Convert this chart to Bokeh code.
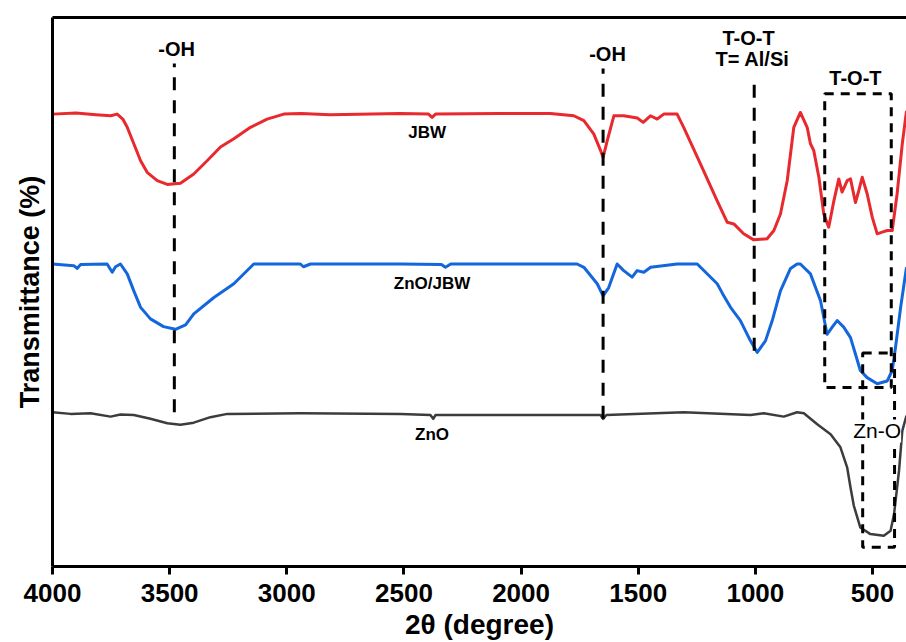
from bokeh.plotting import figure
from bokeh.models import Range1d, LinearAxis, FixedTicker, Label
from bokeh.embed import file_html
from bokeh.resources import INLINE

# ---------------- data ----------------
jbw_wn = [4000, 3900, 3815, 3752, 3724, 3700, 3681, 3653, 3624, 3596, 3553, 3510, 3454, 3397,
          3340, 3283, 3226, 3155, 3084, 3013, 2940, 2815, 2515, 2395, 2380, 2365, 2090, 1875,
          1775, 1732, 1690, 1661, 1650, 1632, 1604, 1562, 1504, 1479, 1448, 1419, 1391, 1334,
          1306, 1234, 1163, 1120, 1092, 1050, 1007, 950, 921, 893, 864, 836, 808, 779, 765,
          751, 729, 708, 687, 665, 644, 630, 608, 594, 573, 559, 544, 523, 501, 480, 459, 437,
          416, 395, 373, 355]
jbw_t = [82.4, 82.6, 82.3, 82.1, 82.4, 81.5, 80.0, 77.0, 73.9, 71.8, 70.3, 69.6, 69.8, 71.5,
         73.9, 76.4, 77.9, 80.0, 81.5, 82.4, 82.5, 82.3, 82.5, 82.4, 81.8, 82.4, 82.5, 82.5,
         82.1, 81.2, 78.8, 75.8, 74.5, 77.6, 82.1, 82.1, 81.7, 80.9, 82.1, 81.5, 82.4, 82.4,
         80.0, 73.3, 66.6, 62.7, 62.4, 60.6, 59.5, 59.7, 61.2, 64.2, 70.3, 80.0, 82.7, 80.0,
         77.0, 75.8, 70.9, 64.2, 61.8, 66.6, 70.6, 68.2, 70.3, 70.6, 66.3, 68.4, 70.9, 67.9,
         63.6, 60.6, 60.9, 61.2, 61.2, 67.9, 77.0, 83.0]

znojbw_wn = [4000, 3909, 3895, 3880, 3767, 3745, 3731, 3710, 3681, 3653, 3624, 3582, 3526, 3475,
             3432, 3397, 3311, 3226, 3141, 2942, 2929, 2899, 2515, 2340, 2323, 2300, 1761, 1732,
             1675, 1650, 1626, 1590, 1562, 1526, 1505, 1476, 1447, 1334, 1248, 1163, 1140, 1106,
             1064, 1021, 992, 957, 928, 893, 850, 822, 808, 765, 722, 694, 672, 651, 623, 594,
             573, 552, 523, 480, 437, 416, 402, 380, 355]
znojbw_t = [55.1, 54.8, 54.3, 55.0, 55.1, 53.6, 54.6, 55.1, 53.3, 50.2, 47.2, 45.1, 43.7, 43.2,
            44.0, 46.0, 49.0, 51.5, 55.1, 55.1, 54.6, 55.1, 55.1, 55.0, 54.5, 55.1, 55.1, 54.5,
            51.5, 49.3, 50.8, 55.1, 53.9, 52.7, 53.9, 53.6, 54.5, 55.1, 55.1, 51.5, 49.7, 47.2,
            44.8, 41.1, 39.0, 41.1, 44.8, 50.2, 54.3, 55.1, 55.1, 53.3, 48.4, 42.3, 43.6, 44.8,
            43.6, 41.7, 38.7, 35.7, 34.4, 33.3, 33.8, 35.7, 39.9, 47.2, 54.5]

zno_wn = [4000, 3923, 3838, 3752, 3710, 3653, 3582, 3510, 3454, 3397, 3326, 3254, 2942, 2515,
          2387, 2375, 2365, 2301, 1661, 1650, 1636, 1306, 1021, 964, 879, 822, 793, 736, 679,
          637, 608, 594, 580, 552, 509, 452, 423, 408, 387, 373, 355]
zno_t = [28.1, 27.8, 27.9, 27.3, 27.7, 27.6, 26.9, 26.1, 25.8, 26.2, 27.2, 27.8, 27.9, 27.8,
         27.6, 26.9, 27.6, 27.6, 27.6, 26.9, 27.6, 28.1, 27.6, 27.9, 27.3, 28.1, 27.9, 25.9,
         24.1, 21.7, 18.0, 14.4, 11.1, 7.1, 5.9, 5.6, 6.5, 9.6, 17.4, 24.7, 27.5]

x_ticks = [4000, 3500, 3000, 2500, 2000, 1500, 1000, 500]

# band markers (wavenumber, lower / upper transmittance of the dashed guide)
band_x = [3480, 1650, 1005]
band_lo = [28.1, 26.9, 39.3]
band_hi = [91.6, 90.7, 89.1]
# dashed boxes: T-O-T and Zn-O regions
box_left = [704, 542]
box_right = [420, 406]
box_bottom = [32.6, 3.5]
box_top = [86.1, 38.9]

# text labels
ann_text = ["-OH", "-OH", "T-O-T", "T= Al/Si", "T-O-T"]
ann_x = [3470, 1631, 1029, 1012, 573]
ann_y = [94.3, 93.4, 96.3, 92.5, 88.9]
series_text = ["JBW", "ZnO/JBW", "ZnO"]
series_x = [2401, 2380, 2380]
series_y = [79.1, 51.5, 24.1]
zn_label = ("Zn-O", 480, 24.7)

FONT = "Liberation Sans"

p = figure(width=906, height=642, output_backend="svg", toolbar_location=None,
           x_range=Range1d(4000, 355), y_range=Range1d(0, 100),
           min_border_left=52, min_border_right=0, min_border_top=17, min_border_bottom=76,
           x_axis_location=None, y_axis_location=None)
p.outline_line_color = None
p.xgrid.visible = False
p.ygrid.visible = False
p.background_fill_color = "white"
p.border_fill_color = "white"

xax = LinearAxis(ticker=FixedTicker(ticks=x_ticks), axis_label="2θ (degree)")
xax.axis_line_width = 3
xax.major_tick_line_width = 3
xax.major_tick_out = 8
xax.major_tick_in = 0
xax.minor_tick_line_color = None
xax.major_label_text_font = FONT
xax.major_label_text_font_style = "bold"
xax.major_label_text_font_size = "26px"
xax.major_label_text_color = "black"
xax.major_label_standoff = 9
xax.axis_label_text_font = FONT
xax.axis_label_text_font_style = "bold"
xax.axis_label_text_font_size = "28px"
xax.axis_label_text_color = "black"
xax.axis_label_standoff = 4
p.add_layout(xax, "below")

yax = LinearAxis(ticker=FixedTicker(ticks=[]), axis_label="Transmittance (%)")
yax.axis_line_width = 3
yax.major_tick_out = 0
yax.major_tick_in = 0
yax.minor_tick_line_color = None
yax.major_label_text_font_size = "0px"
yax.axis_label_text_font = FONT
yax.axis_label_text_font_style = "bold"
yax.axis_label_text_font_size = "27px"
yax.axis_label_text_color = "black"
yax.axis_label_standoff = 8
p.add_layout(yax, "left")

tax = LinearAxis(ticker=FixedTicker(ticks=[]))
tax.axis_line_width = 3
tax.major_tick_out = 0
tax.major_tick_in = 0
tax.minor_tick_line_color = None
tax.major_label_text_font_size = "0px"
p.add_layout(tax, "above")

p.line(jbw_wn, jbw_t, line_color="#e8292e", line_width=3, line_join="round")
p.line(znojbw_wn, znojbw_t, line_color="#1466dc", line_width=3, line_join="round")
p.line(zno_wn, zno_t, line_color="#3c3c3c", line_width=2.5, line_join="round")

p.segment(x0=band_x, y0=band_lo, x1=band_x, y1=band_hi, line_color="black",
          line_width=3, line_dash="13 10")
p.quad(left=box_left, right=box_right, bottom=box_bottom, top=box_top, fill_color=None,
       line_color="black", line_width=3, line_dash="9 7")

for t, x, y in zip(ann_text, ann_x, ann_y):
    p.add_layout(Label(x=x, y=y, text=t, text_align="center", text_baseline="middle",
                       text_font=FONT, text_font_style="bold", text_font_size="20px",
                       text_color="black"))
for t, x, y in zip(series_text, series_x, series_y):
    p.add_layout(Label(x=x, y=y, text=t, text_align="center", text_baseline="middle",
                       text_font=FONT, text_font_style="bold", text_font_size="17px",
                       text_color="black"))
p.add_layout(Label(x=zn_label[1], y=zn_label[2], text=zn_label[0], text_align="center",
                   text_baseline="middle", text_font=FONT, text_font_size="21px",
                   text_color="black", background_fill_color="white"))

open("out.html", "w").write(file_html(p, INLINE))
